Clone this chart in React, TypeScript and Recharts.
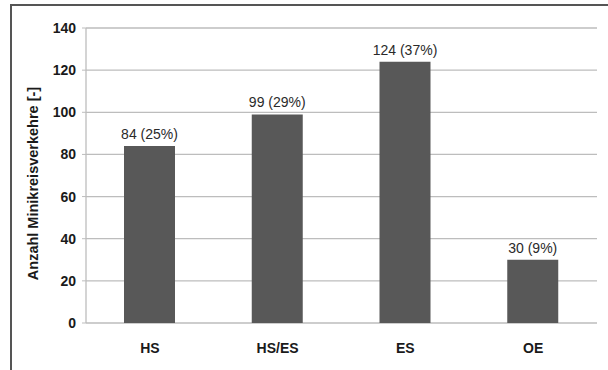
import { BarChart, Bar, XAxis, YAxis, CartesianGrid, LabelList } from "recharts";

// Minikreisverkehre nach Typ
const categories = ["HS", "HS/ES", "ES", "OE"];
const counts = [84, 99, 124, 30];
const shares = [25, 29, 37, 9];
const yTicks = [0, 20, 40, 60, 80, 100, 120, 140];
const boundaryTicks = [0, 1, 2, 3, 4];

const data = categories.map((name, i) => ({
  name,
  count: counts[i],
  label: `${counts[i]} (${shares[i]}%)`,
}));

const FONT = "'Liberation Sans', Arial, sans-serif";
const GRID = "#bdbdbd";
const BAR = "#585858";

function AxisTitle(props: any) {
  const { viewBox } = props;
  const cx = viewBox.x + 33;
  const cy = viewBox.y + viewBox.height / 2 + 8;
  return (
    <text
      x={cx}
      y={cy}
      transform={`rotate(-90 ${cx} ${cy})`}
      textAnchor="middle"
      dominantBaseline="central"
      fontFamily={FONT}
      fontWeight="bold"
      fontSize={14.5}
      fill="#1a1a1a"
    >
      Anzahl Minikreisverkehre [-]
    </text>
  );
}

// value label above each bar, kept on one line
function ValueLabel(props: any) {
  const { x, y, width, value } = props;
  return (
    <text
      x={x + width / 2}
      y={y - 7}
      textAnchor="middle"
      fontFamily={FONT}
      fontSize={14}
      fill="#2a2a2a"
    >
      {value}
    </text>
  );
}

export default function App() {
  return (
    <div
      style={{
        position: "fixed",
        left: 0,
        top: 0,
        width: 608,
        height: 370,
        background: "#fff",
        overflow: "hidden",
      }}
    >
      {/* outer frame, only top and left edges fall inside the image */}
      <div
        style={{
          position: "absolute",
          left: 10,
          top: 4,
          width: 640,
          height: 400,
          borderTop: "2px solid #555",
          borderLeft: "2px solid #555",
        }}
      />
      <div style={{ position: "absolute", left: 0, top: 0 }}>
        <BarChart
          width={608}
          height={370}
          data={data}
          margin={{ top: 28, right: 11, left: 0, bottom: 0 }}
          barSize={51}
        >
          <CartesianGrid vertical={false} stroke={GRID} strokeWidth={1.3} />
          <XAxis
            xAxisId="bounds"
            type="number"
            domain={[0, 4]}
            ticks={boundaryTicks}
            height={0}
            tick={false}
            tickSize={4}
            axisLine={{ stroke: GRID, strokeWidth: 1.3 }}
            tickLine={{ stroke: GRID }}
          />
          <XAxis
            dataKey="name"
            height={47}
            axisLine={false}
            tickLine={false}
            tickMargin={14}
            tick={{ fontFamily: FONT, fontWeight: "bold", fontSize: 14, fill: "#1a1a1a" }}
          />
          <YAxis
            domain={[0, 140]}
            ticks={yTicks}
            width={86}
            tickSize={4}
            tickMargin={6}
            axisLine={{ stroke: GRID, strokeWidth: 1.3 }}
            tickLine={{ stroke: GRID }}
            tick={{ fontFamily: FONT, fontWeight: "bold", fontSize: 14, fill: "#1a1a1a" }}
            label={<AxisTitle />}
          />
          <YAxis
            yAxisId="frame"
            orientation="right"
            width={0}
            domain={[0, 140]}
            tick={false}
            tickLine={false}
            axisLine={{ stroke: GRID, strokeWidth: 1.3 }}
          />
          <Bar dataKey="count" fill={BAR} isAnimationActive={false}>
            <LabelList dataKey="label" content={<ValueLabel />} />
          </Bar>
        </BarChart>
      </div>
    </div>
  );
}
